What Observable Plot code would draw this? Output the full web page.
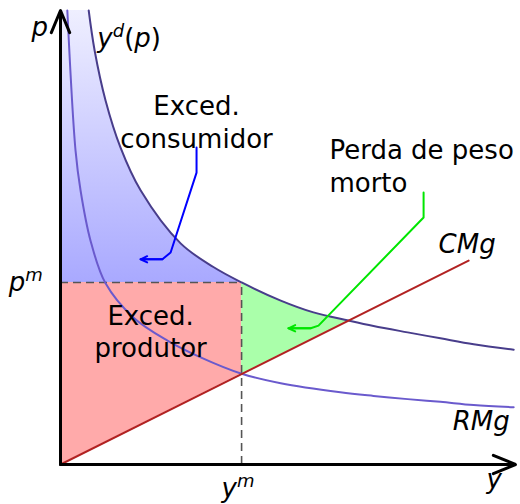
<!DOCTYPE html>
<html><head><meta charset="utf-8">
<script src="https://cdn.jsdelivr.net/npm/d3@7"></script>
<script src="https://cdn.jsdelivr.net/npm/@observablehq/plot@0.6"></script>
<style>body{margin:0;background:#fff} svg{display:block}</style>
</head><body><div id="chart"></div>
<script>
// Demand curve y^d(p)
const demandX = [0.62,0.75,0.99,1.32,1.76,2.64,3.36,3.98,4.84,5.56,6.33,6.88,7.63,8.35,9.08,9.96];
const demandY = [10.0,9.12,8.02,6.98,6.04,4.87,4.35,4.01,3.61,3.35,3.17,3.05,2.91,2.78,2.65,2.53];
// Marginal revenue RMg
const mrX = [0.15,0.33,0.44,0.66,0.99,1.60,2.35,3.08,3.98,4.84,6.15,6.88,7.63,8.35,9.08,9.96];
const mrY = [10.0,6.92,6.04,4.93,3.99,3.24,2.73,2.36,2.00,1.79,1.59,1.51,1.44,1.38,1.31,1.26];
// Marginal cost CMg (straight line)
const mcX = [0, 8.97];
const mcY = [0, 4.49];
// Monopoly quantity / price and deadweight corner
const ym = 3.98, pm = 4.01, mcAtYm = 2.0, dwEndX = 6.33;
// Pointer arrows
const blueX = [2.99,2.99,2.42,2.24,1.76];
const blueY = [6.98,6.43,4.67,4.52,4.52];
const greenX = [7.98,7.98,5.67,5.50,5.01];
const greenY = [5.99,5.44,3.06,3.00,3.00];
// Labels
const labelText   = ["p","yd(p)","Exced.\nconsumidor","Perda de peso\nmorto","Exced.\nprodutor","CMg","RMg","y","pm","ym"];
const labelX      = [-0.64,0.81,2.99,5.91,1.98,8.31,8.62,9.36,-1.14,3.54];
const labelY      = [9.43,9.20,6.98,6.01,2.36,4.65,0.75,-0.51,3.83,-0.71];
const labelAnchor = ["start","start","middle","start","middle","start","start","start","start","start"];
const labelItalic = [true,false,false,false,false,true,true,true,true,true];

const demand = demandX.map((x,i)=>({x, y: demandY[i]}));
const mr = mrX.map((x,i)=>({x, y: mrY[i]}));
const mc = mcX.map((x,i)=>({x, y: mcY[i]}));
const mcSlope = (mcY[1]-mcY[0])/(mcX[1]-mcX[0]);
const consumer = demand.filter(d => d.y >= pm);
const dead = demand.filter(d => d.x >= ym && d.x <= dwEndX).map(d => ({x: d.x, y1: d.x*mcSlope, y2: d.y}));
const producer = [{x:0, y1:0, y2:pm}, {x:ym, y1:mcAtYm, y2:pm}];
const blue = blueX.map((x,i)=>({x, y: blueY[i]}));
const green = greenX.map((x,i)=>({x, y: greenY[i]}));
const lastSeg = (a) => [{x1:a[a.length-2].x, y1:a[a.length-2].y, x2:a[a.length-1].x, y2:a[a.length-1].y}];
const labels = labelText.map((t,i)=>({t, x: labelX[i], y: labelY[i], a: labelAnchor[i], it: labelItalic[i]}));

const txt = (data, anchor, italic) => Plot.text(data, {x:"x", y:"y", text:"t", textAnchor: anchor, lineAnchor:"bottom",
  lineHeight: 1.25, fontSize: 26, fontStyle: italic ? "italic" : "normal", fill: "black"});

const svg = Plot.plot({
  width: 520, height: 504,
  marginLeft: 60, marginRight: 5, marginTop: 10, marginBottom: 40,
  x: {domain: [0, 10], axis: null},
  y: {domain: [0, 10], axis: null},
  style: {fontFamily: "DejaVu Sans", background: "white", overflow: "visible"},
  marks: [
    Plot.areaX(consumer, {x1: 0, x2: "x", y: "y", fill: "#aaaaff", curve: "catmull-rom"}),
    Plot.areaY(producer, {x: "x", y1: "y1", y2: "y2", fill: "#ffaaaa"}),
    Plot.areaY(dead, {x: "x", y1: "y1", y2: "y2", fill: "#aaffaa", curve: "catmull-rom"}),
    Plot.ruleY([pm], {x1: 0, x2: ym, stroke: "#555", strokeWidth: 1.6, strokeDasharray: "8,5"}),
    Plot.ruleX([ym], {y1: 0, y2: pm, stroke: "#555", strokeWidth: 1.6, strokeDasharray: "8,5"}),
    Plot.line(mr, {x: "x", y: "y", stroke: "#6a5acd", strokeWidth: 2, curve: "catmull-rom"}),
    Plot.line(demand, {x: "x", y: "y", stroke: "#483d8b", strokeWidth: 2, curve: "catmull-rom"}),
    Plot.line(mc, {x: "x", y: "y", stroke: "#b22222", strokeWidth: 2}),
    Plot.arrow([{x1:0,y1:0,x2:0,y2:10},{x1:0,y1:0,x2:10,y2:0}], {x1:"x1",y1:"y1",x2:"x2",y2:"y2", stroke:"black", strokeWidth: 3, headLength: 12, headAngle: 45}),
    Plot.line(blue, {x: "x", y: "y", stroke: "#0000ff", strokeWidth: 2, strokeLinejoin: "round"}),
    Plot.arrow(lastSeg(blue), {x1:"x1",y1:"y1",x2:"x2",y2:"y2", stroke:"#0000ff", strokeWidth: 2, headLength: 10, headAngle: 50}),
    Plot.line(green, {x: "x", y: "y", stroke: "#00e600", strokeWidth: 2, strokeLinejoin: "round"}),
    Plot.arrow(lastSeg(green), {x1:"x1",y1:"y1",x2:"x2",y2:"y2", stroke:"#00e600", strokeWidth: 2, headLength: 10, headAngle: 50}),
    txt(labels.filter(d => d.a === "start" && d.it), "start", true),
    txt(labels.filter(d => d.a === "start" && !d.it), "start", false),
    txt(labels.filter(d => d.a === "middle"), "middle", false)
  ]
});

// gradient for consumer surplus
const ns = "http://www.w3.org/2000/svg";
const defs = document.createElementNS(ns, "defs");
const grad = document.createElementNS(ns, "linearGradient");
grad.setAttribute("id", "csGrad");
grad.setAttribute("x1", "0"); grad.setAttribute("y1", "0");
grad.setAttribute("x2", "0"); grad.setAttribute("y2", "1");
[["0", "#efefff"], ["1", "#a9a9ff"]].forEach(([o, c]) => {
  const s = document.createElementNS(ns, "stop");
  s.setAttribute("offset", o); s.setAttribute("stop-color", c);
  grad.appendChild(s);
});
defs.appendChild(grad);
svg.insertBefore(defs, svg.firstChild);
const cg = svg.querySelectorAll('g[aria-label="area"]')[0];
if (cg) { cg.setAttribute("fill", "url(#csGrad)"); cg.querySelectorAll("path").forEach(p => p.setAttribute("fill", "url(#csGrad)")); }

// rich text (superscripts)
const rich = {
  "yd(p)": [["y",true,0],["d",true,1],["(",false,0],["p",true,0],[")",false,0]],
  "pm": [["p",true,0],["m",true,1]],
  "ym": [["y",true,0],["m",true,1]]
};
svg.querySelectorAll("text").forEach(t => {
  const parts = rich[t.textContent];
  if (!parts) return;
  t.textContent = "";
  let level = 0;
  parts.forEach(([s, it, sup]) => {
    const sp = document.createElementNS(ns, "tspan");
    sp.textContent = s;
    sp.setAttribute("font-style", it ? "italic" : "normal");
    if (sup) sp.setAttribute("font-size", "18");
    if (sup !== level) { sp.setAttribute("dy", sup ? "-10" : "10"); level = sup; }
    t.appendChild(sp);
  });
});
document.getElementById("chart").appendChild(svg);
</script>
</body></html>
